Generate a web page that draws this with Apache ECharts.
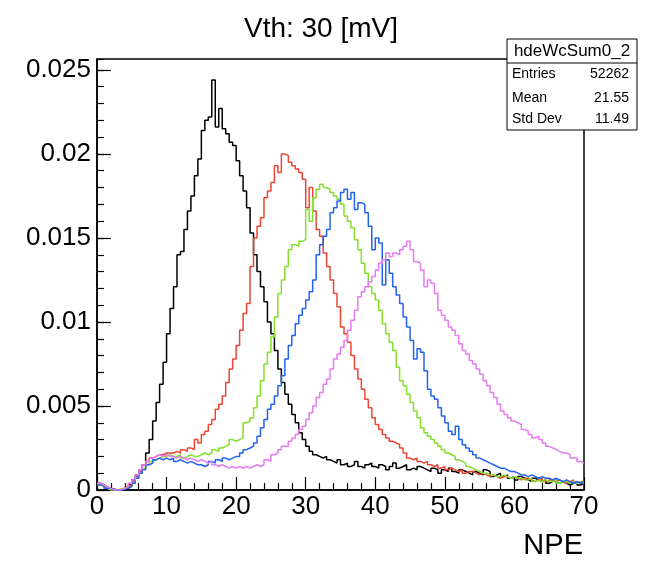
<!DOCTYPE html>
<html>
<head>
<meta charset="utf-8">
<script src="https://cdn.jsdelivr.net/npm/echarts@6/dist/echarts.min.js"></script>
<style>
html,body{margin:0;padding:0;background:#fff;}
#chart{width:652px;height:561px;}
</style>
</head>
<body>
<div id="chart"></div>
<script>
// Histogram bin width (NPE) and range
const binWidth = 0.5;
const xMin = 0, xMax = 70;
const yMax = 0.02565;

// Bin contents (normalized), one value per 0.5 NPE bin, from 0 to 70
const blackCounts = [
 .0004,.0003,.0002,.0001,.00005,0,0,.00005,.0001,.0003,
 .0006,.0009,.0012,.0015,.0022,.0030,.0041,.0052,.0063,.0076,
 .0093,.0108,.0121,.0140,.0142,.0155,.0166,.0175,.0187,.0197,
 .0214,.0220,.0222,.0244,.0216,.0227,.0215,.0212,.0207,.0205,
 .0196,.0187,.0178,.0168,.0153,.0140,.0130,.0121,.0112,.0100,
 .0093,.0083,.0072,.0064,.0057,.0051,.0045,.0040,.0034,.0030,
 .0026,.0023,.0021,.0020,.0019,.0020,.0018,.0017,.0016,.0018,
 .0015,.0016,.0014,.0015,.0017,.0014,.0013,.0015,.0016,.0014,
 .0013,.0015,.0014,.0012,.0014,.0016,.0013,.0014,.0015,.0012,
 .0013,.0012,.0014,.0013,.0012,.0011,.0013,.0012,.0010,.0012,
 .0011,.0013,.0011,.0010,.0012,.0011,.0010,.0009,.0011,.0010,
 .0009,.0012,.0011,.0008,.0009,.0010,.0008,.0009,.0007,.0008,
 .0006,.0008,.0007,.0006,.0005,.0007,.0006,.0005,.0006,.0004,
 .0005,.0006,.0004,.0005,.0004,.0003,.0004,.0005,.0003,.0004
];
const redCounts = [
 .0003,.0002,.0001,.0001,0,0,.00005,.0001,.0002,.0003,
 .0005,.0008,.0011,.0015,.0017,.0019,.0020,.0021,.0021,.0022,
 .0022,.0022,.0023,.0022,.0024,.0023,.0025,.0024,.0030,.0028,
 .0033,.0035,.0039,.0042,.0048,.0051,.0056,.0064,.0072,.0078,
 .0086,.0095,.0105,.0111,.0133,.0150,.0157,.0162,.0174,.0178,
 .0183,.0193,.0189,.0200,.0199,.0195,.0193,.0191,.0189,.0185,
 .0168,.0180,.0166,.0155,.0151,.0141,.0133,.0125,.0117,.0109,
 .0097,.0093,.0088,.0080,.0072,.0066,.0060,.0054,.0049,.0043,
 .0039,.0036,.0033,.0031,.0029,.0028,.0027,.0025,.0022,.0019,
 .0018,.0019,.0017,.0016,.0017,.0015,.0014,.0015,.0013,.0014,
 .0012,.0013,.0012,.0011,.0012,.0010,.0011,.0011,.0010,.0009,
 .0010,.0009,.0008,.0009,.0008,.0007,.0008,.0008,.0007,.0008,
 .0007,.0006,.0007,.0007,.0006,.0005,.0006,.0007,.0005,.0006,
 .0006,.0005,.0006,.0005,.0004,.0005,.0006,.0004,.0005,.0005
];
const greenCounts = [
 .0003,.0002,.0001,0,0,0,.00005,.0001,.0001,.0002,
 .0004,.0007,.0010,.0013,.0015,.0017,.0018,.0019,.0020,.0020,
 .0021,.0020,.0020,.0021,.0019,.0020,.0021,.0020,.0020,.0021,
 .0022,.0021,.0022,.0024,.0023,.0025,.0026,.0027,.0030,.0029,
 .0030,.0031,.0040,.0041,.0043,.0049,.0056,.0065,.0075,.0082,
 .0091,.0103,.0117,.0125,.0133,.0143,.0146,.0145,.0148,.0149,
 .0167,.0160,.0174,.0179,.0182,.0180,.0179,.0177,.0175,.0173,
 .0170,.0163,.0160,.0156,.0149,.0143,.0135,.0129,.0121,.0117,
 .0113,.0107,.0099,.0093,.0088,.0083,.0073,.0065,.0062,.0057,
 .0052,.0047,.0043,.0037,.0034,.0032,.0030,.0028,.0026,.0024,
 .0022,.0021,.0020,.0018,.0017,.0016,.0014,.0013,.0012,.0011,
 .0010,.0010,.0009,.0009,.0008,.0008,.0009,.0008,.0007,.0008,
 .0007,.0007,.0006,.0006,.0007,.0005,.0006,.0005,.0006,.0005,
 .0005,.0006,.0004,.0005,.0005,.0004,.0005,.0004,.0005,.0004
];
const blueCounts = [
 .0003,.0003,.0001,.0001,0,0,0,.00005,.0001,.0002,
 .0004,.0007,.0010,.0012,.0015,.0016,.0018,.0019,.0018,.0019,
 .0018,.0019,.0017,.0018,.0017,.0016,.0017,.0016,.0015,.0015,
 .0014,.0015,.0017,.0016,.0018,.0017,.0019,.0018,.0019,.0020,
 .0020,.0022,.0024,.0025,.0026,.0028,.0032,.0037,.0042,.0048,
 .0051,.0056,.0062,.0068,.0078,.0086,.0092,.0099,.0104,.0108,
 .0113,.0118,.0125,.0140,.0146,.0151,.0155,.0165,.0168,.0172,
 .0177,.0179,.0173,.0177,.0167,.0171,.0170,.0165,.0157,.0143,
 .0150,.0147,.0122,.0137,.0129,.0121,.0116,.0111,.0103,.0097,
 .0089,.0078,.0084,.0082,.0071,.0060,.0056,.0054,.0049,.0044,
 .0040,.0035,.0033,.0038,.0030,.0027,.0025,.0023,.0021,.0019,
 .0018,.0017,.0016,.0015,.0014,.0013,.0013,.0012,.0011,.0011,
 .0010,.0009,.0009,.0008,.0009,.0008,.0007,.0008,.0007,.0007,
 .0006,.0007,.0006,.0005,.0006,.0005,.0004,.0005,.0004,.0005
];
const magentaCounts = [
 .0004,.0003,.0002,.0001,0,0,0,.0001,.0002,.0004,
 .0006,.0009,.0012,.0015,.0017,.0019,.0020,.0021,.0020,.0021,
 .0020,.0020,.0019,.0020,.0019,.0018,.0019,.0018,.0017,.0018,
 .0017,.0016,.0017,.0015,.0014,.0015,.0014,.0013,.0014,.0013,
 .0014,.0013,.0014,.0013,.0014,.0015,.0014,.0015,.0018,.0017,
 .0021,.0022,.0024,.0026,.0026,.0029,.0031,.0033,.0036,.0038,
 .0042,.0046,.0050,.0055,.0058,.0063,.0066,.0072,.0078,.0081,
 .0085,.0089,.0095,.0101,.0107,.0115,.0118,.0121,.0124,.0127,
 .0131,.0135,.0137,.0141,.0139,.0141,.0140,.0143,.0145,.0148,
 .0143,.0136,.0135,.0131,.0121,.0125,.0123,.0117,.0107,.0104,
 .0101,.0097,.0095,.0092,.0087,.0083,.0081,.0077,.0075,.0072,
 .0069,.0065,.0062,.0058,.0055,.0051,.0047,.0045,.0043,.0041,
 .0040,.0039,.0036,.0035,.0033,.0031,.0032,.0030,.0028,.0026,
 .0025,.0024,.0023,.0022,.0022,.0021,.0019,.0019,.0017,.0016
];

const seriesNames = ['black', 'red', 'green', 'blue', 'magenta'];
const seriesColors = ['#000000', '#ee4433', '#84e02a', '#2262f2', '#e67af0'];
const seriesCounts = [blackCounts, redCounts, greenCounts, blueCounts, magentaCounts];

// Stats box text
const statsTitle = 'hdeWcSum0_2';
const statsLabels = ['Entries', 'Mean', 'Std Dev'];
const statsValues = ['52262', '21.55', '11.49'];
const chartTitle = 'Vth: 30 [mV]';
const xTitle = 'NPE';

function toSteps(counts) {
  const pts = counts.map((v, i) => [i * binWidth, v]);
  pts.push([counts.length * binWidth, counts[counts.length - 1]]);
  return pts;
}

const FONT = '"Liberation Sans", Arial, Helvetica, sans-serif';
const chart = echarts.init(document.getElementById('chart'), null, {renderer: 'canvas'});

const statsElements = [
  {type: 'rect', z: 100, shape: {x: 507, y: 39, width: 130, height: 91},
   style: {fill: '#fff', stroke: '#000', lineWidth: 1}},
  {type: 'line', z: 101, shape: {x1: 507, y1: 63, x2: 637, y2: 63},
   style: {stroke: '#000', lineWidth: 1}},
  {type: 'text', z: 102, style: {x: 572, y: 51, text: statsTitle, font: '17px ' + FONT,
   fill: '#000', align: 'center', verticalAlign: 'middle', textAlign: 'center', textVerticalAlign: 'middle'}}
];
const rowY = [74, 98, 119];
statsLabels.forEach((lab, i) => {
  statsElements.push({type: 'text', z: 102, style: {x: 512, y: rowY[i], text: lab, font: '14px ' + FONT,
    fill: '#000', align: 'left', verticalAlign: 'middle', textAlign: 'left', textVerticalAlign: 'middle'}});
  statsElements.push({type: 'text', z: 102, style: {x: 629, y: rowY[i], text: statsValues[i], font: '14px ' + FONT,
    fill: '#000', align: 'right', verticalAlign: 'middle', textAlign: 'right', textVerticalAlign: 'middle'}});
});

const option = {
  animation: false,
  backgroundColor: '#ffffff',
  grid: {left: 97, right: 68, top: 59, bottom: 71, show: true, borderColor: '#000', borderWidth: 1.5,
         backgroundColor: 'transparent', containLabel: false},
  xAxis: {
    type: 'value', min: xMin, max: xMax, interval: 10,
    axisLine: {show: true, onZero: false, lineStyle: {color: '#000', width: 1.5}},
    axisTick: {show: true, inside: true, length: 13, lineStyle: {color: '#000', width: 1.2}},
    minorTick: {show: true, splitNumber: 5, length: 7, lineStyle: {color: '#000', width: 1.2}},
    splitLine: {show: false}, minorSplitLine: {show: false},
    axisLabel: {color: '#000', fontSize: 26, fontFamily: FONT, margin: 4}
  },
  yAxis: [
    {
      type: 'value', min: 0, max: yMax, interval: 0.005, position: 'left',
      axisLine: {show: true, onZero: false, lineStyle: {color: '#000', width: 1.5}},
      axisTick: {show: true, inside: true, length: 14, lineStyle: {color: '#000', width: 1.2}},
      splitLine: {show: false},
      axisLabel: {color: '#000', fontSize: 26, fontFamily: FONT, margin: 6, showMaxLabel: false,
        formatter: v => (v === 0 ? '0' : String(+v.toFixed(3)))}
    },
    {
      type: 'value', min: 0, max: yMax, interval: 0.001, position: 'left', offset: 0,
      axisLine: {show: false},
      axisTick: {show: true, inside: true, length: 7, lineStyle: {color: '#000', width: 1.2}},
      splitLine: {show: false},
      axisLabel: {show: false}
    }
  ],
  series: seriesCounts.map((counts, k) => ({
    name: seriesNames[k], type: 'line', step: 'end', yAxisIndex: 0,
    data: toSteps(counts), showSymbol: false, symbol: 'none',
    lineStyle: {color: seriesColors[k], width: 1.5}, itemStyle: {color: seriesColors[k]},
    z: 2 + k, clip: true
  })),
  graphic: [
    {type: 'text', z: 100, style: {x: 321, y: 29, text: chartTitle, font: '28px ' + FONT, fill: '#000',
      align: 'center', verticalAlign: 'middle', textAlign: 'center', textVerticalAlign: 'middle'}},
    {type: 'text', z: 100, style: {x: 583, y: 546, text: xTitle, font: '29px ' + FONT, fill: '#000',
      align: 'right', verticalAlign: 'middle', textAlign: 'right', textVerticalAlign: 'middle'}}
  ].concat(statsElements)
};
chart.setOption(option);
</script>
</body>
</html>
